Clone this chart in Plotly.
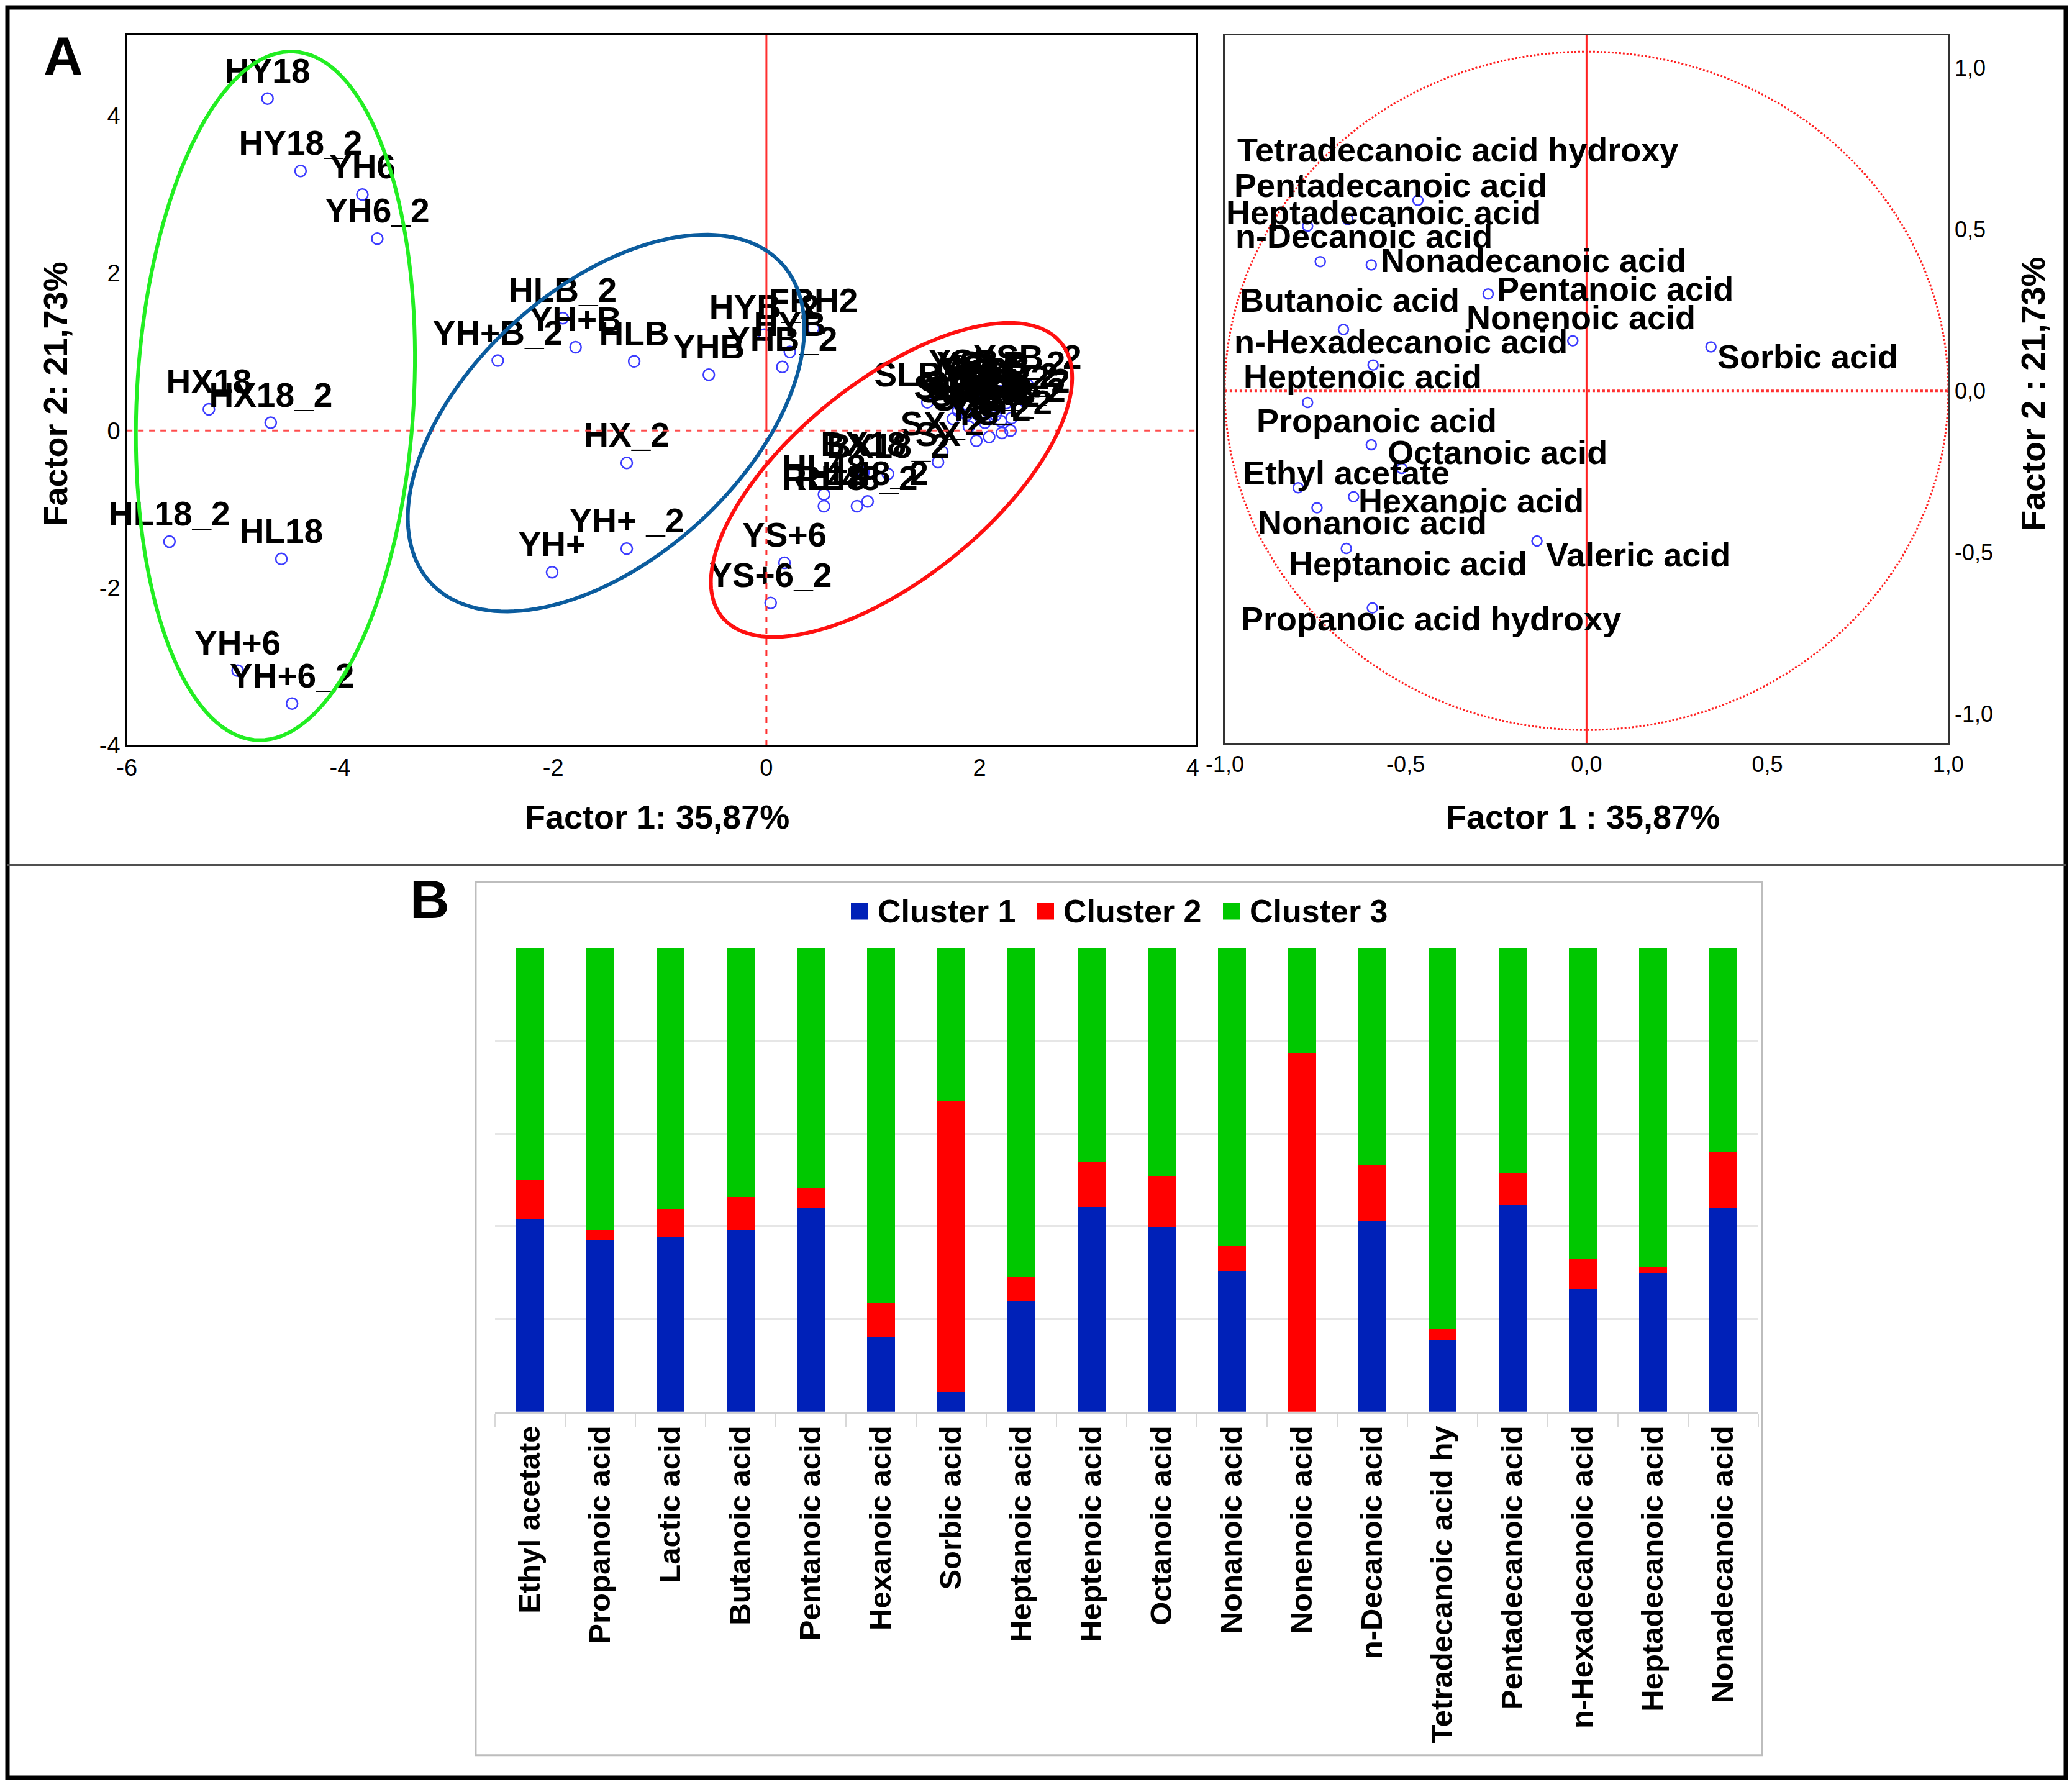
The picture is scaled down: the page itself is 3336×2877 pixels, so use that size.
import numpy as np
import plotly.graph_objects as go

# ---------------- DATA ----------------
# Panel A (left): PCA scores, Factor 1 vs Factor 2
sample_names = ["HY18", "HY18_2", "YH6", "YH6_2", "HX18", "HX18_2", "HL18_2", "HL18",
                "YH+6", "YH+6_2", "HLB_2", "YH+B", "YH+B_2", "HLB", "YHB", "HYB_2",
                "FRH2", "HYB", "YHB_2", "HX_2", "YH+ _2", "YH+", "YS+6", "YS+6_2",
                "BX18", "BX18_2", "HL48", "HL48_2", "RL48", "RL48_2", "SX", "SX_2",
                "SLB_2", "YSB", "YSB_2", "SLB", "YSL", "YSL_2", "SLX", "SLX_2",
                "YSX", "YSX_2", "SHB", "SHB_2", "YS", "YS_2", "SY", "SY_2",
                "YSH", "YSH_2", "SLH", "SLH_2", "SXB", "SXB_2", "YSLB", "YSLB_2"]
score_f1 = [-4.68, -4.37, -3.79, -3.65, -5.23, -4.65, -5.60, -4.55,
            -4.96, -4.45, -1.91, -1.79, -2.52, -1.24, -0.54, -0.02,
            0.44, 0.22, 0.15, -1.31, -1.31, -2.01, 0.17, 0.04,
            0.91, 1.14, 0.54, 0.95, 0.54, 0.85, 1.61, 1.65,
            1.51, 1.85, 2.45, 1.95, 2.10, 2.25, 1.80, 2.00,
            2.15, 2.35, 1.90, 2.05, 1.97, 2.09, 2.21, 2.29,
            2.00, 2.15, 1.75, 1.88, 2.20, 2.30, 2.05, 2.20]
score_f2 = [4.22, 3.30, 3.00, 2.44, 0.27, 0.10, -1.41, -1.63,
            -3.05, -3.47, 1.43, 1.06, 0.89, 0.88, 0.71, 1.22,
            1.30, 1.00, 0.81, -0.41, -1.50, -1.80, -1.68, -2.19,
            -0.53, -0.55, -0.81, -0.90, -0.96, -0.96, -0.40, -0.27,
            0.36, 0.52, 0.58, 0.42, 0.40, 0.35, 0.25, 0.18,
            0.20, 0.28, 0.05, 0.10, -0.13, -0.08, -0.03, 0.00,
            0.30, 0.32, 0.15, 0.20, 0.12, 0.16, 0.45, 0.50]

# Panel A (right): variable loadings
var_names = ["Tetradecanoic acid hydroxy", "Pentadecanoic acid", "Heptadecanoic acid",
             "n-Decanoic acid", "Nonadecanoic acid", "Butanoic acid", "Pentanoic acid",
             "Nonenoic acid", "n-Hexadecanoic acid", "Sorbic acid", "Heptenoic acid",
             "Propanoic acid", "Octanoic acid", "Ethyl acetate", "Hexanoic acid",
             "Nonanoic acid", "Valeric acid", "Heptanoic acid", "Propanoic acid hydroxy"]
load_f1 = [-0.466, -0.660, -0.771, -0.736, -0.595, -0.672, -0.272, -0.038, -0.590, 0.344,
           -0.771, -0.511, -0.595, -0.797, -0.644, -0.745, -0.137, -0.664, -0.592]
load_f2 = [0.590, 0.531, 0.510, 0.400, 0.390, 0.190, 0.300, 0.155, 0.080, 0.136,
           -0.036, -0.240, -0.167, -0.300, -0.328, -0.362, -0.465, -0.488, -0.672]

# Panel B: cluster shares (%)
compounds = ["Ethyl acetate", "Propanoic acid", "Lactic acid", "Butanoic acid",
             "Pentanoic acid", "Hexanoic acid", "Sorbic acid", "Heptanoic acid",
             "Heptenoic acid", "Octanoic acid", "Nonanoic acid", "Nonenoic acid",
             "n-Decanoic acid", "Tetradecanoic acid hy", "Pentadecanoic acid",
             "n-Hexadecanoic acid", "Heptadecanoic acid", "Nonadecanoic acid"]
cluster1 = [41.7, 37.0, 37.8, 39.3, 44.0, 16.1, 4.2, 23.8, 44.1, 39.9, 30.3, 0.0,
            41.3, 15.5, 44.6, 26.4, 30.0, 44.0]
cluster2 = [8.3, 2.2, 6.0, 7.1, 4.2, 7.4, 63.0, 5.2, 9.7, 10.9, 5.5, 77.3,
            11.9, 2.3, 6.8, 6.5, 1.2, 12.1]
cluster3 = [50.0, 60.8, 56.2, 53.6, 51.8, 76.5, 32.8, 71.0, 46.2, 49.2, 64.2, 22.7,
            46.8, 82.2, 48.6, 67.1, 68.8, 43.9]
series_names = ["Cluster 1", "Cluster 2", "Cluster 3"]

score_ticks = [-6, -4, -2, 0, 2, 4]
score_yticks = [-4, -2, 0, 2, 4]
load_ticks = [-1.0, -0.5, 0.0, 0.5, 1.0]
load_ticktext = ["-1,0", "-0,5", "0,0", "0,5", "1,0"]

# ---------------- STYLE / LAYOUT ----------------
W, H = 3336, 2877
FONT = "Liberation Sans, Arial, sans-serif"
SERIES_COLORS = ["#0021b8", "#ff0000", "#00c800"]

X1_DOM, Y1_DOM = [0.0612, 0.5772], [0.5829, 0.9805]
X1_RNG, Y1_RNG = [-6, 4.03], [-4, 5.03]
X2_DOM, Y2_DOM = [0.5911, 0.9403], [0.5839, 0.9803]
X2_RNG, Y2_RNG = [-1.0, 1.0], [-1.092, 1.101]
X3_DOM, Y3_DOM = [0.2388, 0.8486], [0.2100, 0.4693]

# pixels per unit of the score plot (for ellipse drawing)
SX = (X1_DOM[1] - X1_DOM[0]) * W / (X1_RNG[1] - X1_RNG[0])
SY = (Y1_DOM[1] - Y1_DOM[0]) * H / (Y1_RNG[1] - Y1_RNG[0])

# ellipse: centre (data), semi-axes (px), rotation (deg), colour
ellipses = [
    (-4.606, 0.442, 555, 223, 86.9, "#22ee22"),
    (-1.504, 0.096, 382, 219, 42.1, "#0b5c9e"),
    (1.174, -0.626, 351, 159, 38.9, "#ff1010"),
]

# loading label anchor (left edge, middle) in data units
load_label_pos = [(-0.969, 0.746), (-0.977, 0.636), (-1.0, 0.553), (-0.974, 0.48),
                  (-0.573, 0.404), (-0.962, 0.282), (-0.252, 0.316), (-0.336, 0.228),
                  (-0.977, 0.153), (0.359, 0.107), (-0.951, 0.044), (-0.916, -0.092),
                  (-0.553, -0.19), (-0.954, -0.254), (-0.634, -0.339), (-0.913, -0.407),
                  (-0.115, -0.508), (-0.827, -0.534), (-0.959, -0.706)]

# manual legend layout (pixels): swatch left edges, text left edges, centre line
LEG_SWATCH_X = [1370, 1670, 1969]
LEG_TEXT_X = [1411, 1710, 2010]
LEG_Y = 1467
LEG_SW = 27


def ellipse_path(cx, cy, a, b, ang, n=160):
    t = np.linspace(0, 2 * np.pi, n)
    th = np.radians(ang)
    dx = a * np.cos(t) * np.cos(th) - b * np.sin(t) * np.sin(th)
    dy = a * np.cos(t) * np.sin(th) + b * np.sin(t) * np.cos(th)
    xs = cx + dx / SX
    ys = cy + dy / SY
    pts = [f"{x:.4f},{y:.4f}" for x, y in zip(xs, ys)]
    return "M " + " L ".join(pts) + " Z"


fig = go.Figure()

# score scatter
fig.add_trace(go.Scatter(
    x=score_f1, y=score_f2, text=sample_names, mode="markers+text",
    textposition="top center",
    textfont=dict(family=FONT, size=55, color="black", weight="bold"),
    marker=dict(symbol="circle-open", size=18, color="#3c3cff", line=dict(width=2.5, color="#3c3cff")),
    xaxis="x", yaxis="y", showlegend=False, cliponaxis=False))

# loadings scatter
fig.add_trace(go.Scatter(
    x=load_f1, y=load_f2, mode="markers",
    marker=dict(symbol="circle-open", size=16, color="#3c3cff", line=dict(width=2.5, color="#3c3cff")),
    xaxis="x2", yaxis="y2", showlegend=False))

# bars
for name, vals, col in zip(series_names, [cluster1, cluster2, cluster3], SERIES_COLORS):
    fig.add_trace(go.Bar(x=compounds, y=vals, name=name, marker=dict(color=col, line=dict(width=0)),
                         xaxis="x3", yaxis="y3", showlegend=False))

shapes = []
# outer frame and divider
shapes.append(dict(type="rect", xref="paper", yref="paper", x0=12 / W, x1=3326 / W,
                   y0=1 - 2862 / H, y1=1 - 12 / H, line=dict(color="black", width=7)))
shapes.append(dict(type="line", xref="paper", yref="paper", x0=12 / W, x1=3326 / W,
                   y0=1 - 1393 / H, y1=1 - 1393 / H, line=dict(color="#505050", width=4)))
# panel B frame
shapes.append(dict(type="rect", xref="paper", yref="paper", x0=0.2296, x1=0.8505,
                   y0=0.0178, y1=0.5063, line=dict(color="#bdbdbd", width=3)))
# score plot reference lines
shapes.append(dict(type="line", xref="x", yref="y", x0=X1_RNG[0], x1=X1_RNG[1], y0=0, y1=0,
                   line=dict(color="#ff4d4d", width=3, dash="dash")))
shapes.append(dict(type="line", xref="x", yref="y", x0=0, x1=0, y0=0, y1=Y1_RNG[1],
                   line=dict(color="#ff3030", width=3)))
shapes.append(dict(type="line", xref="x", yref="y", x0=0, x1=0, y0=Y1_RNG[0], y1=0,
                   line=dict(color="#ff3030", width=3, dash="dash")))
for cx, cy, a, b, ang, col in ellipses:
    shapes.append(dict(type="path", xref="x", yref="y", path=ellipse_path(cx, cy, a, b, ang),
                       line=dict(color=col, width=6)))
# loadings circle & axes
shapes.append(dict(type="circle", xref="x2", yref="y2", x0=-1, x1=1, y0=-1.05, y1=1.05,
                   line=dict(color="#ff2020", width=3, dash="dot")))
shapes.append(dict(type="line", xref="x2", yref="y2", x0=-1, x1=1, y0=0, y1=0,
                   line=dict(color="#ff3030", width=4, dash="dot")))
shapes.append(dict(type="line", xref="x2", yref="y2", x0=0, x1=0, y0=Y2_RNG[0], y1=Y2_RNG[1],
                   line=dict(color="#ff2020", width=3)))

annotations = []
for nm, (lx, ly) in zip(var_names, load_label_pos):
    annotations.append(dict(x=lx, y=ly, xref="x2", yref="y2", text=nm, showarrow=False,
                            xanchor="left", yanchor="middle",
                            font=dict(family=FONT, size=54, color="black", weight="bold")))

# manual legend for panel B
for name, col, sx, tx in zip(series_names, SERIES_COLORS, LEG_SWATCH_X, LEG_TEXT_X):
    shapes.append(dict(type="rect", xref="paper", yref="paper", x0=sx / W, x1=(sx + LEG_SW) / W,
                       y0=1 - (LEG_Y + LEG_SW / 2) / H, y1=1 - (LEG_Y - LEG_SW / 2) / H,
                       fillcolor=col, line=dict(width=0)))
    annotations.append(dict(x=tx / W, y=1 - LEG_Y / H, xref="paper", yref="paper", text=name,
                            showarrow=False, xanchor="left", yanchor="middle",
                            font=dict(family=FONT, size=52, color="black", weight="bold")))

title_font = dict(family=FONT, size=54, color="black", weight="bold")
big_font = dict(family=FONT, size=88, color="black", weight="bold")
annotations += [
    dict(x=0.0306, y=0.969, xref="paper", yref="paper", text="A", showarrow=False,
         xanchor="center", yanchor="middle", font=big_font),
    dict(x=0.2073, y=0.497, xref="paper", yref="paper", text="B", showarrow=False,
         xanchor="center", yanchor="middle", font=big_font),
    dict(x=0.317, y=0.543, xref="paper", yref="paper", text="Factor 1: 35,87%", showarrow=False,
         xanchor="center", yanchor="middle", font=title_font),
    dict(x=0.0268, y=0.7796, xref="paper", yref="paper", text="Factor 2: 21,73%", showarrow=False,
         xanchor="center", yanchor="middle", textangle=-90, font=title_font),
    dict(x=0.764, y=0.543, xref="paper", yref="paper", text="Factor 1 : 35,87%", showarrow=False,
         xanchor="center", yanchor="middle", font=title_font),
    dict(x=0.981, y=0.7796, xref="paper", yref="paper", text="Factor 2 : 21,73%", showarrow=False,
         xanchor="center", yanchor="middle", textangle=-90, font=title_font),
]

tick_font = dict(family=FONT, size=38, color="black")
fig.update_layout(
    template="none",
    width=W, height=H, autosize=False, margin=dict(l=0, r=0, t=0, b=0, pad=0),
    paper_bgcolor="white", plot_bgcolor="white", showlegend=False,
    barmode="stack", bargap=0.6,
    shapes=shapes, annotations=annotations,
    xaxis=dict(domain=X1_DOM, range=X1_RNG, tickvals=score_ticks, ticktext=[str(v) for v in score_ticks],
               showgrid=False, zeroline=False, showline=True, mirror=True, linecolor="black",
               linewidth=3, ticks="", tickfont=tick_font, anchor="y", automargin=False),
    yaxis=dict(domain=Y1_DOM, range=Y1_RNG, tickvals=score_yticks, ticktext=[str(v) for v in score_yticks],
               showgrid=False, zeroline=False, showline=True, mirror=True, linecolor="black",
               linewidth=3, ticks="", tickfont=tick_font, anchor="x", automargin=False),
    xaxis2=dict(domain=X2_DOM, range=X2_RNG, tickvals=load_ticks, ticktext=load_ticktext,
                showgrid=False, zeroline=False, showline=True, mirror=True, linecolor="#333333",
                linewidth=3, ticks="", tickfont=dict(family=FONT, size=36, color="black"),
                anchor="y2", automargin=False),
    yaxis2=dict(domain=Y2_DOM, range=Y2_RNG, tickvals=load_ticks, ticktext=load_ticktext,
                side="right", showgrid=False, zeroline=False, showline=True, mirror=True,
                linecolor="#333333", linewidth=3, ticks="",
                tickfont=dict(family=FONT, size=36, color="black"), anchor="x2", automargin=False),
    xaxis3=dict(domain=X3_DOM, type="category", showgrid=False, zeroline=False, showline=True,
                linecolor="#d0d0d0", linewidth=3, ticks="outside", tickson="boundaries",
                ticklen=22, tickcolor="#d8d8d8", tickwidth=2, tickangle=-90,
                tickfont=dict(family=FONT, size=49, color="black", weight="bold"),
                anchor="y3", automargin=False),
    yaxis3=dict(domain=Y3_DOM, range=[0, 100], dtick=20, showgrid=True, gridcolor="#e6e6e6",
                gridwidth=3, zeroline=False, showticklabels=False, showline=False, anchor="x3",
                automargin=False),
)

fig.write_html("out.html", config={"displayModeBar": False},
               post_script="document.body.style.margin='0';")
